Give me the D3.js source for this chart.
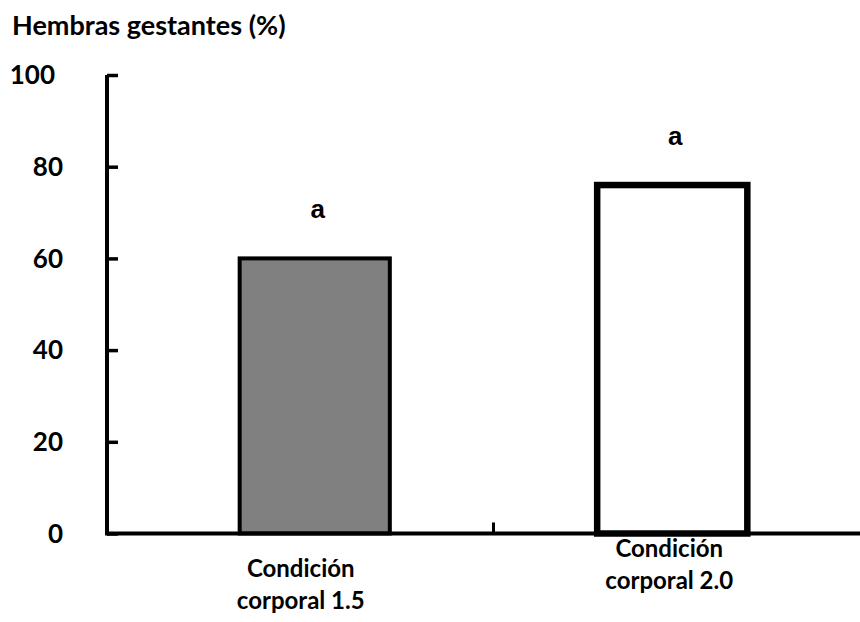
<!DOCTYPE html>
<html>
<head>
<meta charset="utf-8">
<script src="https://cdn.jsdelivr.net/npm/d3@7"></script>
<style>
  html, body { margin: 0; padding: 0; background: #ffffff; }
  svg { display: block; }
</style>
</head>
<body>
<svg id="chart" width="860" height="622"></svg>
<script>
// ---- data ----
const categories = ["Condición corporal 1.5", "Condición corporal 2.0"];
const categoryLines = [["Condición", "corporal 1.5"], ["Condición", "corporal 2.0"]];
const values = [60, 76];
const letters = ["a", "a"];
const yTicks = [0, 20, 40, 60, 80, 100];
const yTitle = "Hembras gestantes (%)";

// ---- layout ----
const svg = d3.select("#chart");
const axisX = 107;
const y = d3.scaleLinear().domain([0, 100]).range([533.5, 75]);
const x = d3.scaleBand().domain(categories).range([136, 851]).paddingInner(0.58).paddingOuter(0.29);

const labelFont = "Lato, 'Open Sans', sans-serif";

// title
svg.append("text")
  .attr("x", 12).attr("y", 35)
  .attr("font-family", labelFont).attr("font-weight", 700).attr("font-size", 27)
  .attr("fill", "#000")
  .text(yTitle);

// bars
const fills = ["#808080", "#ffffff"];
const strokeW = [4, 6.5];
svg.selectAll("rect.bar").data(values).enter().append("rect")
  .attr("class", "bar")
  .attr("x", (d, i) => x(categories[i]))
  .attr("width", x.bandwidth())
  .attr("y", d => y(d))
  .attr("height", d => y(0) - y(d))
  .attr("fill", (d, i) => fills[i])
  .attr("stroke", "#000")
  .attr("stroke-width", (d, i) => strokeW[i]);

// x axis baseline
svg.append("line")
  .attr("x1", axisX).attr("x2", 860)
  .attr("y1", y(0)).attr("y2", y(0))
  .attr("stroke", "#000").attr("stroke-width", 4);

// middle x tick (boundary between categories)
const midX = (x(categories[0]) + x.bandwidth() + x(categories[1])) / 2;
svg.append("line")
  .attr("x1", midX).attr("x2", midX)
  .attr("y1", y(0)).attr("y2", y(0) - 11)
  .attr("stroke", "#000").attr("stroke-width", 3);

// y axis
const yAxis = d3.axisRight(y).tickValues(yTicks).tickSize(11).tickFormat("");
const gy = svg.append("g").attr("transform", `translate(${axisX},0)`).call(yAxis);
gy.select(".domain").attr("d", `M0,${y(100)}V${y(0) + 2}`).attr("stroke", "#000").attr("stroke-width", 4);
gy.selectAll(".tick line").attr("stroke", "#000").attr("stroke-width", 3.5);

// y tick labels
svg.selectAll("text.ytl").data(yTicks).enter().append("text")
  .attr("class", "ytl")
  .attr("x", d => d === 100 ? 55 : 63)
  .attr("y", d => y(d))
  .attr("dy", "0.36em")
  .attr("text-anchor", "end")
  .attr("font-family", labelFont).attr("font-weight", 700).attr("font-size", 26)
  .attr("fill", "#000")
  .text(d => d);

// letters above bars
svg.selectAll("text.letter").data(values).enter().append("text")
  .attr("class", "letter")
  .attr("x", (d, i) => x(categories[i]) + x.bandwidth() / 2 + 3)
  .attr("y", d => y(d) - 40)
  .attr("text-anchor", "middle")
  .attr("font-family", "'Liberation Sans', Arial, sans-serif").attr("font-weight", 700).attr("font-size", 26)
  .attr("fill", "#000")
  .text((d, i) => letters[i]);

// category labels
const catY = [577, 557];
const catDx = [-14, -3];
categoryLines.forEach((lines, i) => {
  const t = svg.append("text")
    .attr("text-anchor", "middle")
    .attr("font-family", labelFont).attr("font-weight", 700).attr("font-size", 24)
    .attr("fill", "#000");
  lines.forEach((ln, j) => {
    t.append("tspan")
      .attr("x", x(categories[i]) + x.bandwidth() / 2 + catDx[i])
      .attr("y", catY[i] + j * 32)
      .text(ln);
  });
});
</script>
</body>
</html>
